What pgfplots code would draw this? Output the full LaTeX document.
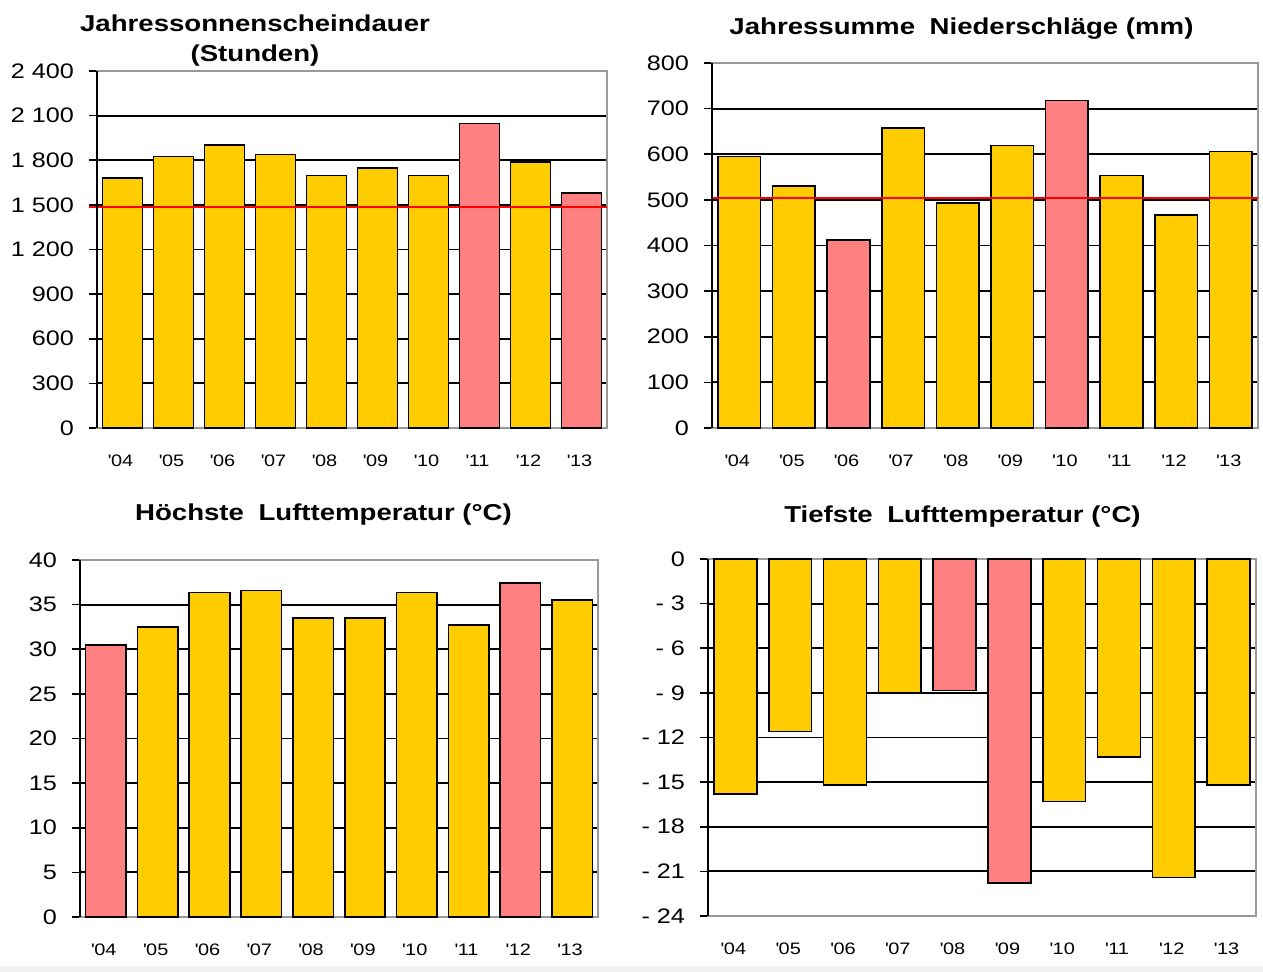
\documentclass[border=0pt]{standalone}
\usepackage{fontspec}
\setmainfont[FakeStretch=1.2]{Liberation Sans}
\usepackage{pgfplots}
\pgfplotsset{compat=1.18}

\definecolor{balken}{HTML}{FFCC00}
\definecolor{rekord}{HTML}{FF8080}
\definecolor{rahmen}{HTML}{999999}

\pgfplotsset{
  panel/.style={
    scale only axis,
    anchor=south west,
    ybar, bar width=0.78, bar shift=0pt,
    xmin=-0.5, xmax=9.5,
    xtick={0,...,9},
    xticklabels={\textquotesingle04,\textquotesingle05,\textquotesingle06,\textquotesingle07,\textquotesingle08,\textquotesingle09,\textquotesingle10,\textquotesingle11,\textquotesingle12,\textquotesingle13},
    xtick style={draw=none},
    xticklabel style={font=\fontsize{8.3}{10}\selectfont, yshift=-6pt, xshift=-1pt},
    yticklabel style={font=\fontsize{10.5}{12}\selectfont, xshift=-4pt},
    tick pos=left, tick align=outside,
    major tick length=4pt,
    ytick style={black, line width=0.8pt},
    ymajorgrids, grid style={black, line width=0.9pt},
    axis line style={rahmen, line width=1pt},
    clip=false,
  },
  gelb/.style={fill=balken, draw=black, line width=0.8pt},
  rosa/.style={fill=rekord, draw=black, line width=0.8pt},
  mittel/.style={red, line width=1pt, sharp plot, mark=none},
}
\newcommand{\linkeachse}{\draw[black, line width=1.2pt] (rel axis cs:0,0) -- (rel axis cs:0,1);}

\begin{document}
\begin{tikzpicture}
\useasboundingbox (0,0) rectangle (631.5pt,486pt);
\fill[gray!12] (0,0) rectangle (631.5pt,3pt);

% Sonnenscheindauer
\begin{axis}[panel, at={(48.5pt,272pt)}, width=255pt, height=178.5pt,
  ymin=0, ymax=2400, ytick={0,300,...,2400},
  yticklabels={0,300,600,900,1 200,1 500,1 800,2 100,2 400}]
\addplot[gelb] coordinates {(0,1680)(1,1826)(2,1902)(3,1839)(4,1698)(5,1747)(6,1698)(8,1788)};
\addplot[rosa] coordinates {(7,2048)(9,1579)};
\addplot[mittel] coordinates {(-0.65,1485)(9.5,1485)};
\linkeachse
\end{axis}

% Niederschlaege
\begin{axis}[panel, at={(356pt,272pt)}, width=273pt, height=182.5pt,
  ymin=0, ymax=800, ytick={0,100,...,800},
  yticklabels={0,100,200,300,400,500,600,700,800}]
\addplot[gelb] coordinates {(0,595)(1,531)(3,658)(4,493)(5,619)(7,553)(8,467)(9,606)};
\addplot[rosa] coordinates {(2,412)(6,718)};
\addplot[mittel] coordinates {(-0.5,505)(9.5,505)};
\linkeachse
\end{axis}

% Hoechste Lufttemperatur
\begin{axis}[panel, at={(40pt,27.5pt)}, width=259pt, height=178.5pt,
  ymin=0, ymax=40, ytick={0,5,...,40},
  yticklabels={0,5,10,15,20,25,30,35,40}]
\addplot[gelb] coordinates {(1,32.5)(2,36.35)(3,36.6)(4,33.5)(5,33.5)(6,36.35)(7,32.7)(9,35.5)};
\addplot[rosa] coordinates {(0,30.5)(8,37.4)};
\linkeachse
\end{axis}

% Tiefste Lufttemperatur
\begin{axis}[panel, at={(354pt,28pt)}, width=274pt, height=178.5pt,
  ymin=-24, ymax=0, ytick={-24,-21,...,0},
  yticklabels={- 24,- 21,- 18,- 15,- 12,- 9,- 6,- 3,0}]
\addplot[gelb] coordinates {(0,-15.8)(1,-11.6)(2,-15.2)(3,-9.0)(6,-16.3)(7,-13.3)(8,-21.4)(9,-15.2)};
\addplot[rosa] coordinates {(4,-8.85)(5,-21.8)};
\linkeachse
\end{axis}

\begin{scope}[font=\bfseries\fontsize{11.5}{13}\selectfont]
\node at (127.5pt,474.5pt) {Jahressonnenscheindauer};
\node at (127.5pt,458pt) {(Stunden)};
\node at (480.75pt,471.5pt) {Jahressumme\hspace{0.3em} Niederschläge (mm)};
\node at (161.75pt,228.5pt) {Höchste\hspace{0.3em} Lufttemperatur (°C)};
\node at (481.25pt,227.5pt) {Tiefste\hspace{0.3em} Lufttemperatur (°C)};
\end{scope}
\end{tikzpicture}
\end{document}
